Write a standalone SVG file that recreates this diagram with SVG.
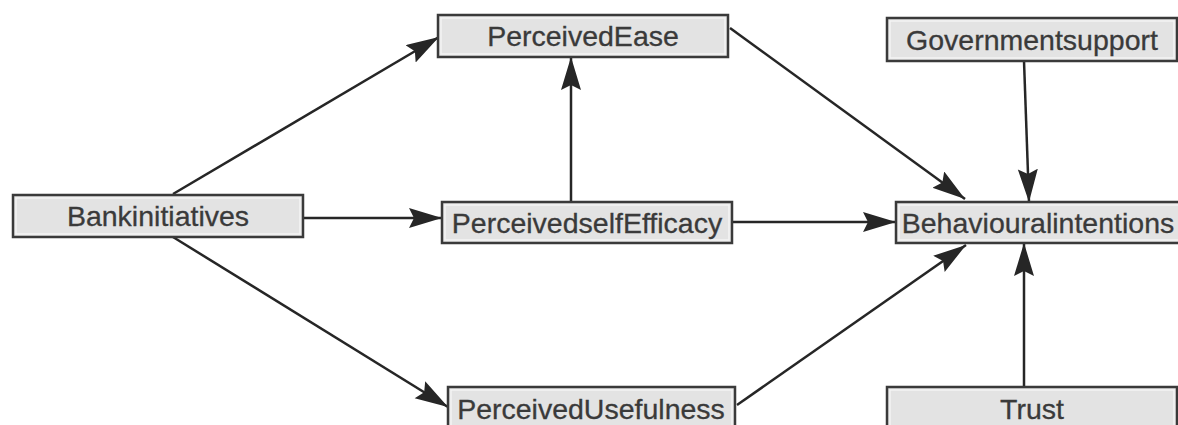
<svg xmlns="http://www.w3.org/2000/svg" width="1178" height="425" viewBox="0 0 1178 425">
<style>
.box{fill:#e3e3e3;stroke:#3a3a3a;stroke-width:2.5}
.inner{fill:none;stroke:#f4f4f4;stroke-width:1.5}
.lbl{font-family:"Liberation Sans",Arial,sans-serif;font-size:28.5px;fill:#3a3a3a;stroke:#3a3a3a;stroke-width:0.3;text-anchor:middle}
.edge{stroke:#262626;stroke-width:2.5;fill:none;marker-end:url(#ah)}
</style>
<defs>
<marker id="ah" markerUnits="userSpaceOnUse" markerWidth="36" markerHeight="22" refX="33" refY="10" orient="auto">
<path d="M0,0 L33,10 L0,20 L5,10 z" fill="#262626"/>
</marker>
</defs>
<rect width="1178" height="425" fill="#ffffff"/>
<g id="connectors">
<line class="edge" x1="173" y1="194" x2="439" y2="37"/>
<line class="edge" x1="303" y1="218" x2="442" y2="218"/>
<line class="edge" x1="173" y1="237" x2="448" y2="407"/>
<line class="edge" x1="571" y1="202" x2="571" y2="57"/>
<line class="edge" x1="730" y1="28" x2="965" y2="199"/>
<line class="edge" x1="732" y1="222" x2="896" y2="222"/>
<line class="edge" x1="737" y1="405" x2="966" y2="245"/>
<line class="edge" x1="1024" y1="61" x2="1029" y2="202"/>
<line class="edge" x1="1024" y1="387" x2="1024" y2="243"/>
</g>
<g id="bankinitiatives">
<rect class="box" x="13" y="195" width="290" height="42"/>
<rect class="inner" x="16" y="198" width="284" height="36"/>
<text class="lbl" x="158" y="226">Bankinitiatives</text>
</g>
<g id="perceivedease">
<rect class="box" x="438" y="15" width="290" height="42"/>
<rect class="inner" x="441" y="18" width="284" height="36"/>
<text class="lbl" x="583" y="46">PerceivedEase</text>
</g>
<g id="perceivedselfefficacy">
<rect class="box" x="442" y="202" width="290" height="41"/>
<rect class="inner" x="445" y="205" width="284" height="35"/>
<text class="lbl" x="587" y="233">PerceivedselfEfficacy</text>
</g>
<g id="perceivedusefulness">
<rect class="box" x="448" y="387" width="287" height="45"/>
<rect class="inner" x="451" y="390" width="281" height="40"/>
<text class="lbl" x="591" y="419">PerceivedUsefulness</text>
</g>
<g id="governmentsupport">
<rect class="box" x="887" y="18" width="290" height="43"/>
<rect class="inner" x="890" y="21" width="284" height="37"/>
<text class="lbl" x="1032" y="50">Governmentsupport</text>
</g>
<g id="behaviouralintentions">
<rect class="box" x="896" y="202" width="288" height="41"/>
<rect class="inner" x="899" y="205" width="282" height="35"/>
<text class="lbl" x="1038" y="233">Behaviouralintentions</text>
</g>
<g id="trust">
<rect class="box" x="887" y="387" width="290" height="45"/>
<rect class="inner" x="890" y="390" width="284" height="40"/>
<text class="lbl" x="1032" y="419">Trust</text>
</g>
</svg>
